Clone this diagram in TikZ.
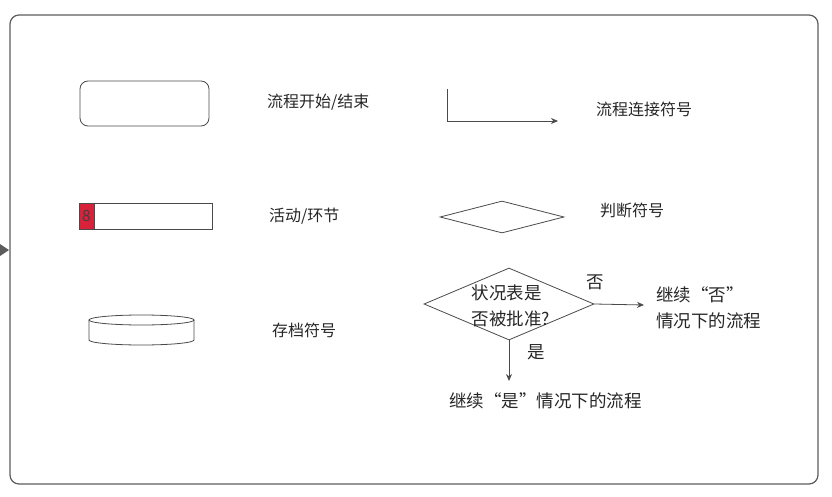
\documentclass[tikz,border=0pt]{standalone}
\usepackage{fontspec}
\newfontfamily\cjk{Noto Sans CJK SC}
\usetikzlibrary{shapes.geometric,arrows.meta}
\definecolor{frameline}{HTML}{5C5C5C}
\definecolor{shapeline}{HTML}{4A4A4A}
\definecolor{actred}{HTML}{D8223C}

\begin{document}
\begin{tikzpicture}[
  x=1pt, y=-1pt,
  every node/.style={font=\cjk\fontsize{16}{19}\selectfont, inner sep=0pt, text=black!85},
  symbol/.style={draw=shapeline, line width=0.8pt},
  caption/.style={anchor=west},
  big/.style={font=\cjk\fontsize{17.5}{26}\selectfont},
  >={Stealth[length=7pt,width=6pt]}
]
  \useasboundingbox (0,0) rectangle (832,497);
  \draw[frameline, line width=1.2pt, rounded corners=9pt] (10,15) rectangle (818,484);
  \fill[frameline] (0,244) -- (9,250) -- (0,256) -- cycle;

  % start / end
  \node[symbol, rounded corners=8pt, minimum width=129pt, minimum height=45pt] (term) at (144.5,103.5) {};
  \node[caption] (termtxt) at (267,102) {流程开始/结束};

  % activity
  \node[symbol, minimum width=133pt, minimum height=26pt] (act) at (145.5,216) {};
  \node[symbol, fill=actred, anchor=west, minimum width=15pt, minimum height=26pt,
        font=\cjk\fontsize{15.5}{17}\selectfont, text=black!75] (actnum) at (act.west) {8};
  \node[caption] (acttxt) at (269,216) {活动/环节};

  % archive
  \draw[symbol] (89,320) -- (89,340) arc[start angle=180, end angle=0, x radius=52.5, y radius=5] -- (194,320);
  \draw[symbol] (141.5,320) ellipse[x radius=52.5, y radius=5];
  \node[caption] (arctxt) at (272,330) {存档符号};

  % connector
  \coordinate (cstart) at (447,89);
  \coordinate (cend) at (558,121);
  \draw[symbol, ->] (cstart) |- (cend);
  \node[caption] (contxt) at (596,109) {流程连接符号};

  % decision
  \node[symbol, diamond, minimum width=124pt, minimum height=32pt] (judge) at (502,217) {};
  \node[caption] (judgetxt) at (600,210) {判断符号};

  % example decision
  \node[symbol, diamond, minimum width=170pt, minimum height=72pt] (dec) at (509,304) {};
  \node[big, align=left] (dectxt) at (511,306) {状况表是\\否被批准?};
  \coordinate (noend) at (644,305);
  \coordinate (yesend) at (509,381);
  \draw[symbol, ->] (dec.east) -- (noend);
  \draw[symbol, ->] (dec.south) -- (yesend);
  \node[big] (notxt) at (595,282) {否};
  \node[big] (yestxt) at (536,352) {是};
  \node[big, caption, align=left] (nonext) at (656,308) {继续“否”\\情况下的流程};
  \node[big, caption] (yesnext) at (449,401) {继续“是”情况下的流程};
\end{tikzpicture}
\end{document}
